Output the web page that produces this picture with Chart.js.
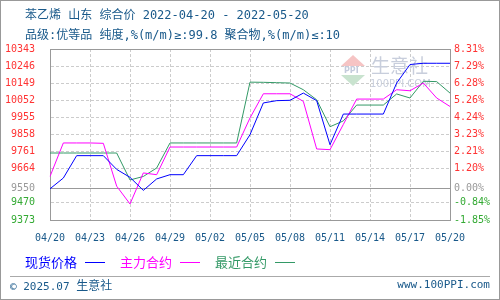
<!DOCTYPE html>
<html>
<head>
<meta charset="utf-8">
<script src="https://cdn.jsdelivr.net/npm/chart.js@4.4.1/dist/chart.umd.min.js"></script>
<style>
  body { margin: 0; background: #fff; }
  #wrap { position: relative; width: 500px; height: 300px; overflow: hidden; font-family: "Noto Sans CJK SC", sans-serif; }
  #wrap canvas { position: absolute; left: 0; top: 0; }
  .t { position: absolute; white-space: nowrap; color: #19598a; font-family: "DejaVu Sans Mono", "Noto Sans CJK SC", monospace; font-size: 12px; line-height: 12px; }
  .f { position: absolute; white-space: nowrap; color: #19598a; font-family: "DejaVu Sans Mono", "Noto Sans CJK SC", monospace; font-size: 11px; line-height: 12px; }
  .f b { font-weight: normal; font-family: "Noto Sans CJK SC", sans-serif; font-size: 12px; }
  .lg { position: absolute; top: 255px; font-size: 13px; line-height: 13px; white-space: nowrap; }
  .ln { position: absolute; top: 262px; width: 20px; height: 1px; }
  #frame { position: absolute; left: 0; top: 0; width: 500px; height: 300px; box-sizing: border-box; border: 1px solid #999; }
</style>
</head>
<body>
<div id="wrap">
  <canvas id="chart" width="500" height="300"></canvas>
  <div class="t" style="left:25px; top:9px;">苯乙烯 山东 综合价 2022-04-20 - 2022-05-20</div>
  <div class="t" style="left:25px; top:29px;">品级:优等品 纯度,%(m/m)≥:99.8 聚合物,%(m/m)≤:10</div>

  <div class="lg" style="left:25px; color:#0000ff;">现货价格</div>
  <div class="ln" style="left:85px; background:#0000ff;"></div>
  <div class="lg" style="left:120px; color:#ff00ff;">主力合约</div>
  <div class="ln" style="left:180px; background:#ff00ff;"></div>
  <div class="lg" style="left:215px; color:#339966;">最近合约</div>
  <div class="ln" style="left:275px; background:#339966;"></div>

  <div style="position:absolute; left:10px; top:276px; width:480px; height:1px; background:#aaa;"></div>
  <div class="f" style="left:10px; top:279px;">© 2025.07 <b>生意社</b></div>
  <div class="f" style="right:10px; top:279px;">www.100PPI.com</div>
  <div id="frame"></div>
</div>
<script>
// calendar days 04/20 .. 05/20
const dates = ['04/20', '04/21', '04/22', '04/23', '04/24', '04/25', '04/26', '04/27', '04/28', '04/29', '04/30',
               '05/01', '05/02', '05/03', '05/04', '05/05', '05/06', '05/07', '05/08', '05/09', '05/10',
               '05/11', '05/12', '05/13', '05/14', '05/15', '05/16', '05/17', '05/18', '05/19', '05/20'];

// 现货价格
const spot = [9550, 9611, 9738, 9738, 9738, 9660, 9615, 9541, 9606, 9630, 9630,
              9738, 9738, 9738, 9738, 9857, 10037, 10050, 10052, 10093, 10050,
              9800, 9974, 9974, 9974, 9974, 10150, 10255, 10262, 10262, 10262];
// 主力合约
const mainContract = [9620, 9810, 9810, 9810, 9808, 9565, 9464, 9640, 9630, 9787, 9787,
                      9787, 9787, 9787, 9787, 9952, 10089, 10089, 10089, 10046, 9776,
                      9772, 9915, 10059, 10059, 10059, 10112, 10106, 10150, 10065, 10017];
// 最近合约
const nearContract = [9753, 9753, 9753, 9753, 9753, 9753, 9600, 9620, 9668, 9810, 9810,
                      9810, 9810, 9810, 9810, 10155, 10154, 10152, 10150, 10112, 10055,
                      9902, 9935, 10025, 10025, 10025, 10088, 10065, 10160, 10158, 10093];

const leftTicks = [9373, 9470, 9550, 9664, 9761, 9858, 9955, 10052, 10149, 10246, 10343];
const rightTicks = ['-1.85%', '-0.84%', '0.00%', '1.20%', '2.21%', '3.23%', '4.24%', '5.26%', '6.28%', '7.29%', '8.31%'];
const base = 9550;

const yMin = leftTicks[0];
const yMax = leftTicks[leftTicks.length - 1];
const solidY = v => v === base || v === yMin || v === yMax;
const tickColor = v => v > base ? '#ff3333' : (v < base ? '#33aa33' : '#999999');
const monoFont = { family: 'DejaVu Sans Mono', size: 10 };

const watermark = {
  id: 'watermark',
  beforeDatasetsDraw(chart) {
    const c = chart.ctx;
    c.save();
    c.fillStyle = '#f6c4c4';
    c.beginPath(); c.moveTo(353, 55); c.lineTo(365, 66); c.lineTo(341, 66); c.closePath(); c.fill();
    c.fillStyle = '#c9e3cf';
    c.beginPath(); c.moveTo(341, 75); c.lineTo(365, 75); c.lineTo(353, 86); c.closePath(); c.fill();
    c.fillStyle = '#c4cbdc';
    c.font = 'bold 8px DejaVu Sans';
    c.fillText('PPI', 344, 73);
    c.font = '19px "Noto Sans CJK SC"';
    c.fillStyle = '#c8cedc';
    c.fillText('生意社', 371, 73);
    c.font = '10px DejaVu Sans';
    c.fillText('100PPI.COM', 370, 87);
    c.restore();
  }
};

new Chart(document.getElementById('chart'), {
  type: 'line',
  data: {
    labels: dates,
    datasets: [
      { label: '现货价格', data: spot, borderColor: '#0000ff' },
      { label: '主力合约', data: mainContract, borderColor: '#ff00ff' },
      { label: '最近合约', data: nearContract, borderColor: '#339966' }
    ]
  },
  options: {
    responsive: false,
    animation: false,
    layout: { padding: { top: 49, left: 0, right: 0, bottom: 0 } },
    plugins: { legend: { display: false }, tooltip: { enabled: false } },
    elements: { point: { radius: 0 }, line: { borderWidth: 1, tension: 0 } },
    scales: {
      x: {
        afterFit(s) { s.height = 80; },
        grid: {
          drawTicks: false,
          color: c => (c.index % 3 !== 0) ? 'rgba(0,0,0,0)' : ((c.index === 0 || c.index === dates.length - 1) ? '#999' : '#ccc')
        },
        border: { color: '#999', dash: c => (c.type === 'tick' && c.index !== 0 && c.index !== dates.length - 1) ? [3, 2] : [] },
        ticks: {
          autoSkip: false, maxRotation: 0, padding: 12, color: '#19598a', font: monoFont,
          callback: (v, i) => i % 3 === 0 ? dates[i] : ''
        }
      },
      y: {
        position: 'left', min: yMin, max: yMax,
        afterBuildTicks(s) { s.ticks = leftTicks.map(v => ({ value: v })); },
        afterFit(s) { s.width = 50; },
        grid: { drawTicks: false, color: c => solidY(c.tick.value) ? '#999' : '#ccc' },
        border: { color: '#999', dash: c => (c.type === 'tick' && !solidY(c.tick.value)) ? [3, 2] : [] },
        ticks: { autoSkip: false, padding: 15, font: monoFont, color: c => tickColor(c.tick.value), callback: v => String(v) }
      },
      y1: {
        position: 'right', min: yMin, max: yMax,
        afterBuildTicks(s) { s.ticks = leftTicks.map(v => ({ value: v })); },
        afterFit(s) { s.width = 50; },
        grid: { drawOnChartArea: false, drawTicks: false },
        border: { color: '#999' },
        ticks: { autoSkip: false, padding: 4, font: monoFont, color: c => tickColor(c.tick.value), callback: v => rightTicks[leftTicks.indexOf(v)] }
      }
    }
  },
  plugins: [watermark]
});
</script>
</body>
</html>
